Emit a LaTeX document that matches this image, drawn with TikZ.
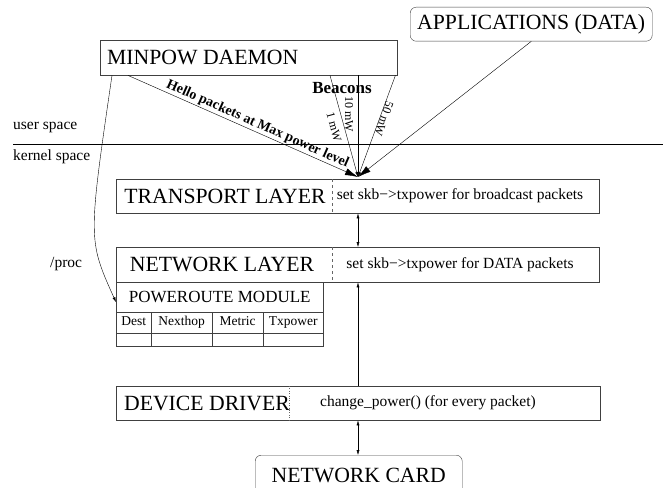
\documentclass[tikz,border=0pt]{standalone}
\usepackage{fontspec}
\setmainfont{Liberation Serif}
\usetikzlibrary{arrows.meta,positioning}

\tikzset{
  box/.style={draw=black!75, rectangle, inner sep=0pt, anchor=north west},
  roundbox/.style={box, rounded corners=6pt},
  big/.style={font=\fontsize{21.7}{24}\selectfont, inner sep=0pt},
  small/.style={font=\fontsize{15.5}{18}\selectfont, inner sep=0pt},
  mid/.style={font=\fontsize{17}{20}\selectfont, inner sep=0pt},
  cell/.style={box, font=\fontsize{13.5}{15}\selectfont, text height=9pt, text depth=3pt},
  mw/.style={font=\fontsize{12}{14}\selectfont, inner sep=0pt},
  bigarrow/.style={-{Latex[length=13pt,width=7pt]}},
  thinarrow/.style={-{Latex[length=5pt,width=3pt]}},
  dblarrow/.style={{Latex[length=5pt,width=3pt]}-{Latex[length=5pt,width=3pt]}},
}

\begin{document}
\begin{tikzpicture}[x=1pt, y=-1pt]
    \useasboundingbox (0,0) rectangle (663,487);

    \node[box, minimum width=297pt, minimum height=35pt] (daemon) at (100,40) {};
    \node[big, anchor=west] (daemontxt) at (107,57.5) {MINPOW DAEMON};
    \node[roundbox, big, minimum width=242pt, minimum height=34pt] (apps) at (410,7) {APPLICATIONS (DATA)};

    \draw (13,144) -- (663,144);
    \node[small, anchor=west] (user) at (13,127) {user space};
    \node[small, anchor=west] (kernel) at (13,157) {kernel space};

    \node[box, minimum width=483pt, minimum height=34pt] (transport) at (116,179) {};
    \node[big] (transportname) at (225,196) {TRANSPORT LAYER};
    \node[small] (transportset) at (460,196) {set skb−>txpower for broadcast packets};
    \draw[dashed, black!60] (332,179) -- (332,213);

    \node[box, minimum width=483pt, minimum height=35pt] (network) at (116,247) {};
    \node[big] (networkname) at (222,264.5) {NETWORK LAYER};
    \node[small] (networkset) at (460,264.5) {set skb−>txpower for DATA packets};
    \draw[dashed, black!60] (332,247) -- (332,282);

    \node[box, mid, minimum width=207pt, minimum height=30pt] (moduletitle) at (116,282) {POWEROUTE MODULE};
    \node[cell, minimum width=35pt, minimum height=21pt] (dest) at (116,312) {Dest};
    \node[cell, minimum width=61pt, minimum height=21pt] (nexthop) at (151,312) {Nexthop};
    \node[cell, minimum width=51pt, minimum height=21pt] (metric) at (212,312) {Metric};
    \node[cell, minimum width=60pt, minimum height=21pt] (txpower) at (263,312) {Txpower};
    \node[box, minimum width=35pt, minimum height=13pt] (dest2) at (116,333) {};
    \node[box, minimum width=61pt, minimum height=13pt] (nexthop2) at (151,333) {};
    \node[box, minimum width=51pt, minimum height=13pt] (metric2) at (212,333) {};
    \node[box, minimum width=60pt, minimum height=13pt] (txpower2) at (263,333) {};

    \node[box, minimum width=484pt, minimum height=34pt] (driver) at (116,386) {};
    \node[big] (drivername) at (207,403) {DEVICE DRIVER};
    \node[small] (driverset) at (428,403) {change\_power() (for every packet)};
    \draw[dotted, black!60] (289,386) -- (289,420);

    \node[roundbox, big, minimum width=207pt, minimum height=40pt] (card) at (255,455) {NETWORK CARD};

    \coordinate (hub) at (358,177);
    \draw[bigarrow] ([xshift=28pt]daemon.south west) -- node[sloped, above, pos=.55, inner sep=1pt, font=\bfseries\fontsize{14}{16}\selectfont] {Hello packets at Max power level} (hub);
    \draw[thinarrow] ([xshift=230pt]daemon.south west) -- (hub);
    \draw[thinarrow] ([xshift=258pt]daemon.south west) -- (hub);
    \draw[thinarrow] ([xshift=-2pt]daemon.south east) -- (hub);
    \draw[bigarrow] (apps.south) -- (hub);
    \node[font=\bfseries\fontsize{17}{19}\selectfont, inner sep=0pt] (beacons) at (342,88) {Beacons};
    \node[mw, rotate=-75] (onemw) at (334,127) {1 mW};
    \node[mw, rotate=-90] (tenmw) at (349,114) {10 mW};
    \node[mw, rotate=-110] (fiftymw) at (384,119) {50 mW};

    \draw[thinarrow] ([xshift=12pt]daemon.south west) .. controls (88,240) .. ([yshift=-5pt]moduletitle.west);
    \node[small, anchor=west] (proc) at (50,264) {/proc};

    \draw[dblarrow] (transport.south -| hub) -- (network.north -| hub);
    \draw[thinarrow] (driver.north -| hub) -- (network.south -| hub);
    \draw[dblarrow] (driver.south -| hub) -- (card.north -| hub);
\end{tikzpicture}
\end{document}
